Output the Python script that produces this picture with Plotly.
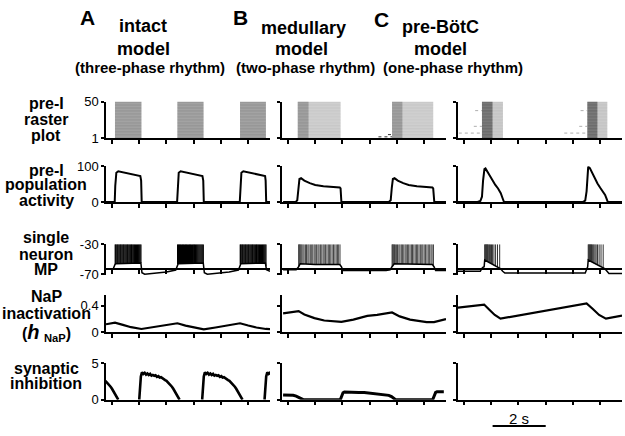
import numpy as np
import plotly.graph_objects as go

# ---------------- data (time in s) ----------------
t_range = [-0.22, 5.8]
neurons = list(range(1, 51))

# raster: burst windows
raster_A_on = [0.11, 2.40, 4.70]
raster_A_off = [1.08, 3.36, 5.65]
raster_B_on = [0.36, 3.82]
raster_B_off = [1.93, 5.33]
raster_C_on = [0.66, 4.53]
raster_C_off = [1.43, 5.26]
raster_B_pre_neurons = [3, 6]
raster_B_pre_lead = [0.5, 0.15]
raster_C_pre_neurons = [8, 17, 38]
raster_C_pre_lead = [0.85, 0.3, 0.25]

# population activity
pop_A_t = [-0.22, 0.10, 0.12, 0.16, 0.23, 0.35, 0.54, 0.75, 0.95, 1.04, 1.07, 1.09,
           2.39, 2.41, 2.45, 2.52, 2.65, 2.84, 3.05, 3.25, 3.32, 3.35, 3.37,
           4.69, 4.71, 4.75, 4.82, 4.95, 5.14, 5.35, 5.55, 5.62, 5.64, 5.66, 5.8]
pop_A_v = [0, 0, 45, 82, 86, 84, 80, 77, 75, 73, 60, 0,
           0, 45, 82, 86, 84, 80, 77, 75, 73, 60, 0,
           0, 45, 82, 86, 84, 80, 77, 75, 73, 60, 0, 0]
pop_B_t = [-0.18, 0.28, 0.34, 0.38, 0.42, 0.48, 0.6, 0.8, 1.0, 1.3, 1.6, 1.9, 1.93, 1.96,
           3.70, 3.77, 3.81, 3.85, 3.91, 4.03, 4.23, 4.43, 4.73, 5.03, 5.3, 5.33, 5.37, 5.8]
pop_B_v = [0, 0, 5, 40, 65, 67, 60, 53, 48, 44, 42, 41, 38, 0,
           0, 5, 40, 65, 67, 60, 53, 48, 44, 42, 41, 38, 0, 0]
pop_C_t = [-0.26, 0.5, 0.6, 0.66, 0.7, 0.75, 0.79, 0.86, 0.95, 1.05, 1.15, 1.25, 1.35, 1.42, 1.47,
           4.35, 4.45, 4.5, 4.53, 4.56, 4.62, 4.7, 4.8, 4.9, 5.0, 5.1, 5.18, 5.24, 5.28, 5.8]
pop_C_v = [0, 0, 3, 15, 60, 92, 94, 85, 73, 58, 48, 38, 25, 10, 0,
           0, 4, 30, 80, 99, 95, 82, 68, 52, 40, 30, 20, 8, 0, 0]

# single neuron membrane potential (subthreshold trace, mV)
mp_A_t = [-0.22, 0.05, 0.11, 0.14, 1.06, 1.1, 1.2, 1.6, 2.0, 2.34, 2.4, 2.43,
          3.35, 3.39, 3.5, 3.9, 4.3, 4.64, 4.7, 4.73, 5.63, 5.67, 5.8]
mp_A_v = [-63, -62.5, -57, -56, -55, -68, -70, -69, -67, -64.5, -57, -56,
          -55, -68, -70, -69, -67, -64.5, -57, -56, -55, -64, -66]
mp_B_t = [-0.18, 0.3, 0.39, 0.45, 1.0, 1.9, 1.96, 2.02, 3.6, 3.75, 3.82, 3.9, 5.3, 5.36, 5.42, 5.8]
mp_B_v = [-64, -64, -60, -56, -57, -57, -60, -65, -65, -64, -60, -56, -57, -60, -65, -65]
mp_C_t = [-0.26, 0.6, 0.68, 0.74, 0.76, 0.95, 1.15, 1.35, 1.42, 1.5,
          4.45, 4.5, 4.54, 4.56, 4.75, 4.95, 5.18, 5.25, 5.32, 5.8]
mp_C_v = [-66, -66, -61, -60, -51, -55, -59, -63, -66, -68.5,
          -68.5, -62, -60, -51, -55, -59, -63, -66, -69, -69]

# spikes: burst onsets/ends and spike times relative to onset
spk_A_on = [0.11, 2.40, 4.70]
spk_A_end = [1.08, 3.36, 5.65]
spk_A_rel = [0.01, 0.04, 0.08, 0.11, 0.15, 0.19, 0.22, 0.26, 0.3, 0.33, 0.37, 0.41, 0.45,
             0.48, 0.52, 0.56, 0.6, 0.63, 0.67, 0.71, 0.75, 0.79, 0.83, 0.87, 0.91, 0.95]
spk_B_on = [0.39, 3.82]
spk_B_end = [1.96, 5.36]
spk_B_rel = [0.0, 0.02, 0.04, 0.06, 0.09, 0.12, 0.16, 0.2, 0.25, 0.29, 0.34, 0.38, 0.43,
             0.48, 0.52, 0.57, 0.61, 0.66, 0.71, 0.75, 0.8, 0.85, 0.9, 0.94, 0.99, 1.04,
             1.09, 1.13, 1.18, 1.23, 1.28, 1.33, 1.38, 1.43, 1.47, 1.52]
spk_C_on = [0.76, 4.56]
spk_C_end = [1.37, 5.2]
spk_C_rel = [0.0, 0.02, 0.04, 0.06, 0.08, 0.1, 0.12, 0.15, 0.18, 0.21, 0.25, 0.29,
             0.34, 0.4, 0.47, 0.55]

# NaP inactivation
nap_A_t = [-0.22, 0.11, 0.4, 0.7, 1.08, 1.5, 2.0, 2.4, 2.7, 3.0, 3.37, 3.8, 4.3, 4.7, 5.0, 5.3, 5.65, 5.8]
nap_A_v = [0.12, 0.145, 0.11, 0.075, 0.048, 0.075, 0.105, 0.135, 0.1, 0.07, 0.043,
           0.07, 0.1, 0.135, 0.1, 0.07, 0.048, 0.045]
nap_B_t = [-0.18, 0.39, 0.6, 0.97, 1.33, 1.82, 1.96, 2.4, 2.91, 3.27, 3.6, 3.82, 4.1,
           4.48, 5.09, 5.36, 5.8]
nap_B_v = [0.286, 0.32, 0.27, 0.214, 0.177, 0.157, 0.157, 0.19, 0.248, 0.263, 0.29,
           0.30, 0.24, 0.19, 0.153, 0.153, 0.2]
nap_C_t = [-0.26, 0.74, 0.95, 1.13, 1.34, 4.5, 4.72, 4.96, 5.21, 5.8]
nap_C_v = [0.37, 0.42, 0.334, 0.262, 0.205, 0.438, 0.357, 0.262, 0.205, 0.253]

# synaptic inhibition
syn_A_on = [-1.25, 1.0, 3.31, 5.6]
syn_A_rel = [0.0, 0.03, 0.06, 0.1, 0.15, 0.2, 0.25, 0.3, 0.35, 0.4, 0.45, 0.5, 0.55, 0.6,
             0.65, 0.7, 0.75, 0.8, 0.85, 0.9, 0.95, 1.0, 1.05, 1.1, 1.15, 1.2, 1.25, 1.3,
             1.35, 1.4, 1.44, 1.48]
syn_A_val = [0.0, 1.5, 3.2, 3.75, 3.55, 3.7, 3.45, 3.6, 3.4, 3.55, 3.3, 3.4, 3.28, 3.35,
             3.15, 3.25, 3.05, 3.1, 2.92, 2.85, 2.7, 2.6, 2.42, 2.25, 2.0, 1.78, 1.5, 1.15,
             0.85, 0.5, 0.2, 0.0]
syn_B_t = [-0.18, 0.0, 0.19, 0.3, 0.4, 0.48, 0.56, 1.92, 1.96, 2.02, 2.07, 2.2, 2.4, 2.6,
           2.8, 3.0, 3.2, 3.4, 3.58, 3.7, 3.8, 3.88, 3.95, 5.31, 5.36, 5.42, 5.47, 5.6, 5.72]
syn_B_v = [0.66, 0.64, 0.6, 0.5, 0.35, 0.15, 0.0, 0.0, 0.5, 0.95, 1.06, 1.02, 1.05, 0.98,
           1.0, 0.92, 0.9, 0.82, 0.72, 0.6, 0.42, 0.2, 0.0, 0.0, 0.5, 1.0, 1.1, 1.12, 1.1]

# ---------------- layout geometry (pixels of the 625x436 page) ----------------
W, H = 625, 436
col_px = [(106, 270), (282, 446), (458, 622)]
row_px = [(98, 136), (165, 202), (245.7, 277.5), (298, 336.7), (369, 406.7)]
y_ranges = [[1, 50], [0, 100], [-71, -30], [0, 0.57], [0, 5]]
y_ticks = [[1, 50], [0, 100], [-70, -30], [0, 0.4], [0, 5]]
y_ticktext = [["1", "50"], ["0", "100"], ["-70", "-30"], ["0", "0.4"], ["0", "5"]]
mp_axis_y = 271.3  # x-axis of the MP row crosses at about -63 mV

fig = go.Figure()


def ax(r, c):
    i = r * 3 + c + 1
    return ("x%d" % i, "y%d" % i)


def line(r, c, x, y, color="black", width=2, dash=None):
    xa, ya = ax(r, c)
    fig.add_trace(go.Scatter(x=x, y=y, mode="lines", xaxis=xa, yaxis=ya,
                             line=dict(color=color, width=width, dash=dash),
                             hoverinfo="skip"))


def raster(c, ons, offs, color, width, dash=None, frac=1.0):
    xs, ys = [], []
    for n in neurons:
        for a, b in zip(ons, offs):
            xs += [a, a + (b - a) * frac, None]
            ys += [n, n, None]
    line(0, c, xs, ys, color, width, dash)


def spikes(c, ons, ends, rel, sub_t, sub_v, color, width=1):
    xs, ys = [], []
    for a, b in zip(ons, ends):
        for s in rel:
            t = a + s
            if t > b:
                continue
            xs += [t, t, None]
            ys += [float(np.interp(t, sub_t, sub_v)), -30, None]
    line(2, c, xs, ys, color, width)


# raster row
raster(0, raster_A_on, raster_A_off, "#666", 0.6)
raster(1, raster_B_on, raster_B_off, "#b0b0b0", 0.6)
raster(1, raster_B_on, raster_B_off, "#777", 0.5, frac=0.25)
raster(2, raster_C_on, raster_C_off, "#aaa", 0.6)
raster(2, raster_C_on, raster_C_off, "#444", 0.6, frac=0.5)
for n, lead in zip(raster_B_pre_neurons, raster_B_pre_lead):
    line(0, 1, [raster_B_on[1] - lead, raster_B_on[1]], [n, n], "#333", 1, "dot")
for n, lead in zip(raster_C_pre_neurons, raster_C_pre_lead):
    for a in raster_C_on:
        line(0, 2, [a - lead, a], [n, n], "#999", 0.8, "dot")

# population row
line(1, 0, pop_A_t, pop_A_v, width=2)
line(1, 1, pop_B_t, pop_B_v, width=2)
line(1, 2, pop_C_t, pop_C_v, width=2)

# MP row
spikes(0, spk_A_on, spk_A_end, spk_A_rel, mp_A_t, mp_A_v, "black", 1.3)
spikes(1, spk_B_on, spk_B_end, spk_B_rel, mp_B_t, mp_B_v, "#444")
spikes(2, spk_C_on, spk_C_end, spk_C_rel, mp_C_t, mp_C_v, "#333")
line(2, 0, mp_A_t, mp_A_v, width=1.5)
line(2, 1, mp_B_t, mp_B_v, width=1.5)
line(2, 2, mp_C_t, mp_C_v, width=1.5)

# NaP row
line(3, 0, nap_A_t, nap_A_v, width=2.2)
line(3, 1, nap_B_t, nap_B_v, width=2.2)
line(3, 2, nap_C_t, nap_C_v, width=2.2)

# synaptic inhibition row
sx, sy = [], []
for a in syn_A_on:
    sx += [a + r for r in syn_A_rel] + [None]
    sy += syn_A_val + [None]
line(4, 0, sx, sy, width=2.6)
line(4, 1, syn_B_t, syn_B_v, width=3)

layout = dict(width=W, height=H, margin=dict(l=0, r=0, t=0, b=0),
              paper_bgcolor="white", plot_bgcolor="white", showlegend=False,
              font=dict(family="Arial, Liberation Sans, sans-serif", color="black"))
for r in range(5):
    for c in range(3):
        i = r * 3 + c + 1
        x0, x1 = col_px[c]
        y0, y1 = row_px[r]
        xa = dict(domain=[x0 / W, x1 / W], range=t_range, anchor="y%d" % i,
                  showline=True, linecolor="black", linewidth=1.5, ticks="outside",
                  ticklen=4, tickwidth=1.5, tickcolor="black", tickvals=[0, 1, 2, 3, 4, 5],
                  showticklabels=False, showgrid=False, zeroline=False)
        if r == 2:
            xa.update(anchor="free", position=1 - mp_axis_y / H)
        ya = dict(domain=[1 - y1 / H, 1 - y0 / H], range=y_ranges[r], anchor="x%d" % i,
                  showline=True, linecolor="black", linewidth=1.5, ticks="outside",
                  ticklen=3, tickwidth=1.5, tickcolor="black", tickvals=y_ticks[r],
                  ticktext=y_ticktext[r], showticklabels=(c == 0),
                  tickfont=dict(size=13), showgrid=False, zeroline=False)
        layout["xaxis%d" % i] = xa
        layout["yaxis%d" % i] = ya

ann = []


def text(s, px, py, size, bold=True, xanchor="center"):
    ann.append(dict(text="<b>%s</b>" % s if bold else s, x=px / W, y=1 - py / H,
                    xref="paper", yref="paper", showarrow=False, xanchor=xanchor,
                    yanchor="middle", font=dict(size=size)))


# column headers
text("A", 87, 11, 21)
text("B", 240, 11, 21)
text("C", 381, 13, 21)
text("intact", 143, 20, 18)
text("model", 143, 43, 18)
text("(three-phase rhythm)", 150, 63, 15)
text("medullary", 303, 22, 18)
text("model", 301, 44, 18)
text("(two-phase rhythm)", 305, 63, 15)
text("pre-BötC", 440, 21, 18)
text("model", 440, 44, 18)
text("(one-phase rhythm)", 453, 63, 15)

# row labels
row_labels = [("pre-I", 100), ("raster", 117), ("plot", 133),
              ("pre-I", 169), ("population", 184), ("activity", 200),
              ("single", 239), ("neuron", 256), ("MP", 272),
              ("NaP", 300), ("inactivation", 317),
              ("(<span style='font-size:20px'><i>h</i></span> <sub>NaP</sub>)", 337),
              ("synaptic", 374), ("inhibition", 390)]
for s, py in row_labels:
    text(s, 46, py, 16)

# 2 s scale bar
text("2 s", 519, 426, 15, bold=False)
layout["annotations"] = ann
layout["shapes"] = [dict(type="line", xref="x15", yref="paper", x0=1.05, x1=3.0,
                         y0=1 - 434 / H, y1=1 - 434 / H, line=dict(color="black", width=2))]

fig.update_layout(**layout)
fig.write_html("out.html", config={"displayModeBar": False},
               post_script="document.body.style.margin='0px';")
